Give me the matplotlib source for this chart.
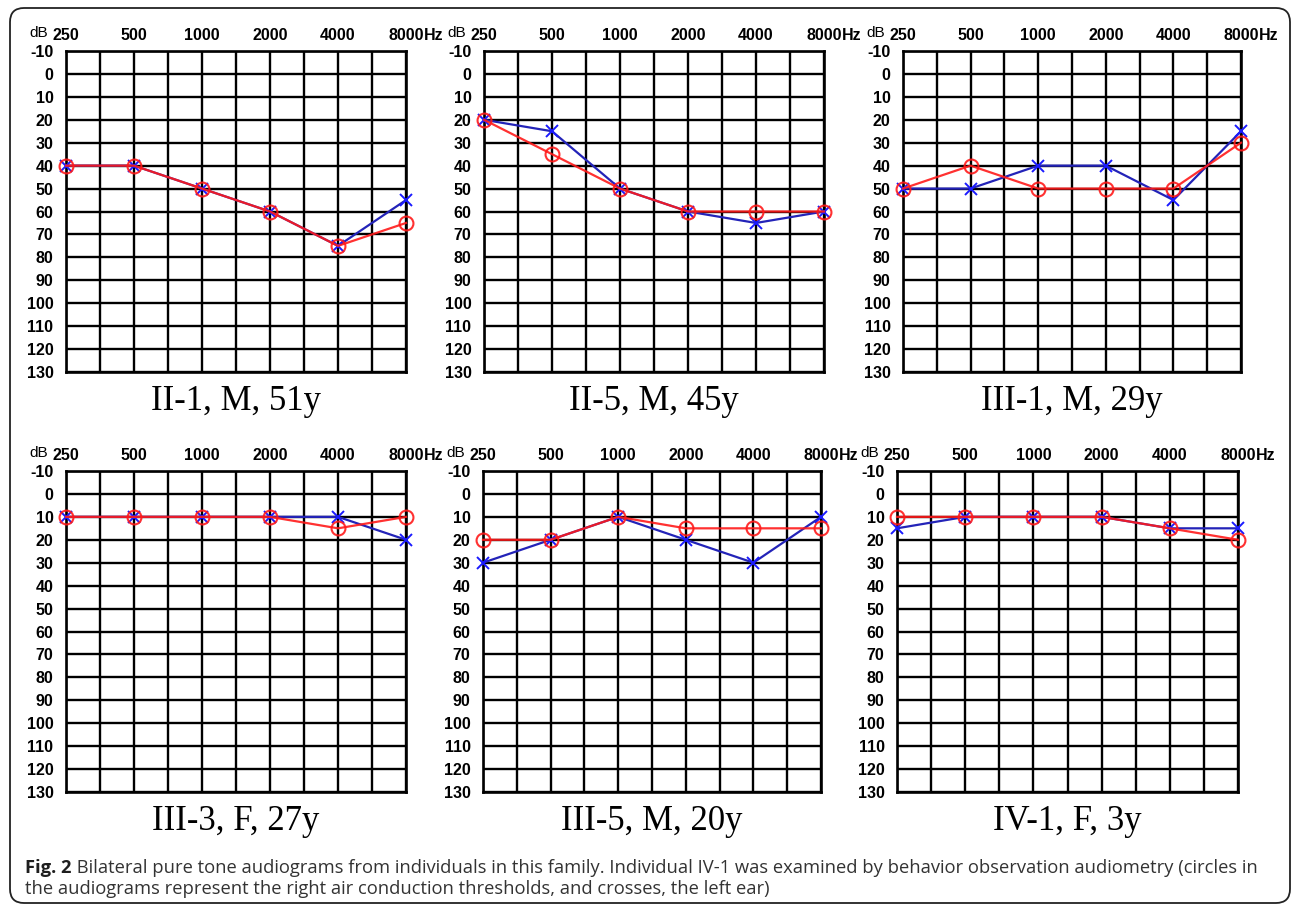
import numpy as np
import matplotlib
matplotlib.use("Agg")
import matplotlib.pyplot as plt
from matplotlib.patches import FancyBboxPatch
from matplotlib.transforms import IdentityTransform

# ---------------- data ----------------
freqs = [250, 500, 1000, 2000, 4000, 8000]
db_ticks = list(range(-10, 131, 10))

titles = ["II-1, M, 51y", "II-5, M, 45y", "III-1, M, 29y",
          "III-3, F, 27y", "III-5, M, 20y", "IV-1, F, 3y"]

# right ear (circles, red)
right_ii1 = [40, 40, 50, 60, 75, 65]
right_ii5 = [20, 35, 50, 60, 60, 60]
right_iii1 = [50, 40, 50, 50, 50, 30]
right_iii3 = [10, 10, 10, 10, 15, 10]
right_iii5 = [20, 20, 10, 15, 15, 15]
right_iv1 = [10, 10, 10, 10, 15, 20]

# left ear (crosses, blue)
left_ii1 = [40, 40, 50, 60, 75, 55]
left_ii5 = [20, 25, 50, 60, 65, 60]
left_iii1 = [50, 50, 40, 40, 55, 25]
left_iii3 = [10, 10, 10, 10, 10, 20]
left_iii5 = [30, 20, 10, 20, 30, 10]
left_iv1 = [15, 10, 10, 10, 15, 15]

rights = [right_ii1, right_ii5, right_iii1, right_iii3, right_iii5, right_iv1]
lefts = [left_ii1, left_ii5, left_iii1, left_iii3, left_iii5, left_iv1]

caption_bold = "Fig. 2"
caption_line1 = ("Bilateral pure tone audiograms from individuals in this family. "
                 "Individual IV-1 was examined by behavior observation audiometry (circles in")
caption_line2 = "the audiograms represent the right air conduction thresholds, and crosses, the left ear)"

# ---------------- layout ----------------
W, H = 1292, 906
fig = plt.figure(figsize=(W / 100, H / 100), dpi=100)

# panel boxes in pixels: (left, top, right, bottom)
boxes = [(66, 51, 406, 372), (484, 51, 824, 372), (903, 51, 1241, 372),
         (66, 471, 406, 792), (483, 471, 821, 792), (897, 471, 1238, 792)]

RED = "#ff1a1a"
BLUE = "#2323b8"
BLUE_M = "#1a1aff"

minor = [np.sqrt(freqs[i] * freqs[i + 1]) for i in range(len(freqs) - 1)]

for box, title, r, l in zip(boxes, titles, rights, lefts):
    x0, y0, x1, y1 = box
    ax = fig.add_axes([x0 / W, 1 - y1 / H, (x1 - x0) / W, (y1 - y0) / H])
    ax.set_xscale("log", base=2)
    ax.set_xlim(freqs[0], freqs[-1])
    ax.set_ylim(db_ticks[-1], db_ticks[0])
    ax.set_xticks(freqs)
    ax.set_xticks(minor, minor=True)
    ax.set_xticklabels([str(f) for f in freqs])
    ax.set_yticks(db_ticks)
    ax.set_yticklabels([str(d) for d in db_ticks])
    ax.xaxis.set_ticks_position("top")
    ax.tick_params(axis="both", which="both", length=0)
    ax.tick_params(axis="x", pad=6)
    ax.tick_params(axis="y", pad=9)
    ax.xaxis.set_minor_formatter(matplotlib.ticker.NullFormatter())
    for lab in ax.get_xticklabels() + ax.get_yticklabels():
        lab.set_fontfamily("Liberation Sans")
        lab.set_fontweight("bold")
        lab.set_fontsize(11.5)
    ax.grid(True, which="both", color="black", linewidth=1.7)
    for sp in ax.spines.values():
        sp.set_linewidth(1.9)
    ax.set_axisbelow(True)

    ax.plot(freqs, l, color=BLUE, linewidth=1.6, marker="x", markersize=8,
            markeredgecolor=BLUE_M, markeredgewidth=1.4, zorder=3, clip_on=False)
    ax.plot(freqs, r, color=RED, linewidth=1.6, marker="o", markersize=10,
            markerfacecolor="none", markeredgecolor=RED, markeredgewidth=1.5,
            alpha=0.9, zorder=4, clip_on=False)

    ax.annotate("dB", xy=(0, 1), xycoords="axes fraction", xytext=(-20, 13),
                textcoords="offset points", ha="center", va="center",
                fontsize=11, fontfamily="Liberation Sans")
    ax.annotate("Hz", xy=(1, 1), xycoords="axes fraction", xytext=(13, 11),
                textcoords="offset points", ha="left", va="center",
                fontsize=11.5, fontweight="bold", fontfamily="Liberation Sans")
    ax.annotate(title, xy=(0.5, 0), xycoords="axes fraction", xytext=(0, -27),
                textcoords="offset points", ha="center", va="baseline",
                fontsize=25, fontfamily="Liberation Serif")

# caption
CAP_FS = 13.2
t1 = fig.text(25 / W, 1 - 873 / H, caption_bold, fontsize=CAP_FS, fontweight="bold",
              fontfamily="Open Sans", ha="left", va="baseline", color="#1e1e1e")
plt.annotate(" " + caption_line1, xy=(1, 0), xycoords=t1, ha="left", va="bottom",
             fontsize=CAP_FS, fontfamily="Open Sans", color="#333333",
             annotation_clip=False)
fig.text(25 / W, 1 - 894 / H, caption_line2, fontsize=CAP_FS, fontfamily="Open Sans",
         ha="left", va="baseline", color="#333333")

# outer rounded frame (display pixels)
frame = FancyBboxPatch((10, 3), 1280, 895, boxstyle="round,pad=0,rounding_size=14",
                       transform=IdentityTransform(), fill=False, edgecolor="#222222",
                       linewidth=1.3)
fig.patches.append(frame)

fig.savefig("out.png", dpi=100)
